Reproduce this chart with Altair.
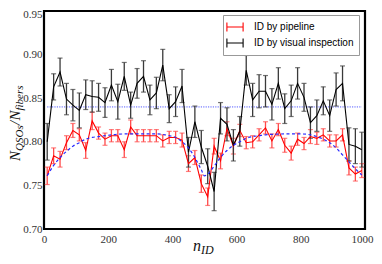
import altair as alt
import pandas as pd

# ---------------- data ----------------
n_id = [10, 30, 50, 70, 90, 110, 130, 150, 170, 190,
        210, 230, 250, 270, 290, 310, 330, 350, 370, 390,
        410, 430, 450, 470, 490, 510, 530, 550, 570, 590,
        610, 630, 650, 670, 690, 710, 730, 750, 770, 790,
        810, 830, 850, 870, 890, 910, 930, 950, 970, 990]

pipeline = [0.761, 0.784, 0.780, 0.799, 0.813, 0.808, 0.790, 0.824, 0.810, 0.803,
            0.807, 0.807, 0.791, 0.817, 0.807, 0.807, 0.807, 0.807, 0.801, 0.805,
            0.805, 0.802, 0.775, 0.782, 0.752, 0.737, 0.795, 0.778, 0.815, 0.795,
            0.813, 0.799, 0.800, 0.808, 0.816, 0.801, 0.814, 0.796, 0.787, 0.803,
            0.798, 0.806, 0.804, 0.808, 0.801, 0.801, 0.808, 0.770, 0.763, 0.767]
pipeline_err = [0.010, 0.009, 0.009, 0.008, 0.008, 0.007, 0.009, 0.010, 0.007, 0.007,
                0.007, 0.007, 0.009, 0.008, 0.007, 0.007, 0.007, 0.007, 0.007, 0.007,
                0.007, 0.008, 0.009, 0.008, 0.010, 0.010, 0.009, 0.009, 0.008, 0.009,
                0.007, 0.007, 0.007, 0.007, 0.007, 0.008, 0.007, 0.008, 0.008, 0.007,
                0.007, 0.008, 0.007, 0.007, 0.007, 0.007, 0.007, 0.008, 0.008, 0.008]

visual = [0.800, 0.863, 0.880, 0.849, 0.842, 0.836, 0.854, 0.852, 0.851, 0.845,
          0.865, 0.846, 0.875, 0.842, 0.867, 0.875, 0.848, 0.856, 0.888, 0.838,
          0.846, 0.864, 0.788, 0.823, 0.794, 0.772, 0.743, 0.827, 0.820, 0.796,
          0.812, 0.882, 0.848, 0.858, 0.858, 0.843, 0.867, 0.838, 0.847, 0.867,
          0.851, 0.822, 0.830, 0.847, 0.830, 0.860, 0.867, 0.797, 0.795, 0.791]
visual_err = [0.021, 0.015, 0.016, 0.018, 0.018, 0.020, 0.017, 0.018, 0.016, 0.017,
              0.018, 0.020, 0.016, 0.015, 0.017, 0.018, 0.017, 0.018, 0.018, 0.016,
              0.017, 0.019, 0.017, 0.018, 0.019, 0.020, 0.022, 0.018, 0.019, 0.018,
              0.017, 0.017, 0.019, 0.019, 0.018, 0.018, 0.018, 0.017, 0.018, 0.018,
              0.016, 0.018, 0.018, 0.016, 0.018, 0.019, 0.020, 0.019, 0.020, 0.020]

model_x = [10, 30, 50, 70, 90, 110, 130, 150, 170, 190,
           210, 250, 300, 350, 390, 410, 430, 450, 470, 490,
           500, 510, 530, 550, 570, 590, 610, 630, 650, 670,
           690, 750, 800, 830, 850, 870, 890, 910, 930, 950,
           970, 990]
model_y = [0.761, 0.773, 0.782, 0.789, 0.795, 0.799, 0.803, 0.805, 0.806, 0.807,
           0.808, 0.809, 0.809, 0.809, 0.807, 0.805, 0.800, 0.793, 0.782, 0.768,
           0.761, 0.763, 0.772, 0.782, 0.790, 0.796, 0.800, 0.804, 0.806, 0.807,
           0.808, 0.809, 0.809, 0.808, 0.806, 0.803, 0.799, 0.793, 0.785, 0.777,
           0.769, 0.762]

mean_level = [0.84]
mean_span = [10, 990]

series_names = ["ID by pipeline", "ID by visual inspection"]
series_colors = ["#ff0000", "#000000"]
bar_colors = ["#ff4a4a", "#3a3a3a"]

x_ticks = [0, 200, 400, 600, 800, 1000]
y_ticks = [0.70, 0.75, 0.80, 0.85, 0.90, 0.95]

# ---------------- tables ----------------
rows = []
for name, vals, errs in [(series_names[0], pipeline, pipeline_err),
                         (series_names[1], visual, visual_err)]:
    for n, v, e in zip(n_id, vals, errs):
        rows.append({"n": n, "v": v, "lo": v - e, "hi": v + e, "series": name})
df = pd.DataFrame(rows)
model_df = pd.DataFrame({"n": model_x, "v": model_y})
mean_df = pd.DataFrame({"x1": [mean_span[0]], "x2": [mean_span[1]], "v": mean_level})

serif = "Liberation Serif"
sans = "Liberation Sans"

xs = alt.Scale(domain=[0, 1000], nice=False, zero=False)
ys = alt.Scale(domain=[0.70, 0.95], nice=False, zero=False)

x_axis = alt.Axis(values=x_ticks, title=None, grid=False, ticks=False, domain=False,
                  labelFont=serif, labelFontSize=11, labelColor="#333",
                  labelPadding=4, format="d", labelFlush=False,
                  labelAlign={"condition": {"test": "datum.value >= 1000", "value": "right"},
                              "value": "center"},
                  labelOffset={"condition": {"test": "datum.value >= 1000", "value": 8},
                               "value": 0})
y_axis = alt.Axis(values=y_ticks, title=None, grid=False, ticks=False, domain=False,
                  labelFont=serif, labelFontSize=11, labelColor="#333",
                  labelPadding=2, format=".2f", labelFlush=False,
                  labelOffset={"condition": {"test": "datum.value >= 0.949", "value": 3},
                               "value": 0})

base = alt.Chart(df)

mean_line = alt.Chart(mean_df).mark_rule(color="#9ea2ff", strokeWidth=1.6,
                                         strokeDash=[1.2, 1.2]).encode(
    x=alt.X("x1:Q", scale=xs, axis=x_axis),
    x2="x2:Q",
    y=alt.Y("v:Q", scale=ys, axis=y_axis),
)

layers = [mean_line]
for name, bc in zip(series_names, bar_colors):
    sub = base.transform_filter(alt.datum.series == name)
    layers.append(sub.mark_rule(color=bc, strokeWidth=1.3).encode(
        x=alt.X("n:Q", scale=xs), y=alt.Y("lo:Q", scale=ys), y2="hi:Q"))
    layers.append(sub.mark_tick(color=bc, orient="horizontal", size=5, thickness=1.2).encode(
        x=alt.X("n:Q", scale=xs), y=alt.Y("lo:Q", scale=ys)))
    layers.append(sub.mark_tick(color=bc, orient="horizontal", size=5, thickness=1.2).encode(
        x=alt.X("n:Q", scale=xs), y=alt.Y("hi:Q", scale=ys)))

lines = base.mark_line(strokeWidth=1.1).encode(
    x=alt.X("n:Q", scale=xs),
    y=alt.Y("v:Q", scale=ys),
    color=alt.Color("series:N",
                    scale=alt.Scale(domain=series_names, range=series_colors),
                    legend=alt.Legend(
                        title=None, orient="none", legendX=179, legendY=4,
                        direction="vertical",
                        symbolType="M-1.35,0H1.35M-1.35,-0.75V0.75M1.35,-0.75V0.75",
                        symbolSize=144, symbolStrokeWidth=1.1,
                        labelFont=sans, labelFontSize=10, labelColor="#000",
                        labelOffset=12, labelLimit=300, rowPadding=2,
                        padding=5, strokeColor="#999", fillColor="white",
                        cornerRadius=0)),
)
layers.append(lines)

model = alt.Chart(model_df).mark_line(color="#2a2aff", strokeWidth=1.2,
                                      strokeDash=[3, 2.5],
                                      interpolate="monotone").encode(
    x=alt.X("n:Q", scale=xs), y=alt.Y("v:Q", scale=ys))
layers.append(model)


def label(txt, x, y, size, angle=0):
    d = pd.DataFrame({"t": [txt]})
    mk = alt.Chart(d).mark_text(font=serif, fontStyle="italic", fontSize=size,
                                align="left", baseline="alphabetic",
                                angle=angle, color="#111")
    return mk.encode(text="t:N", x=alt.value(x), y=alt.value(y))


# y-axis title  N_{QSOs}/N_{fibers}
layers += [
    label("N", -24, 150, 15, 270),
    label("QSOs", -21, 140, 11, 270),
    label("/", -24, 114, 15, 270),
    label("N", -24, 109.5, 15, 270),
    label("fibers", -21, 99.5, 11, 270),
]
# x-axis title  n_{ID}
layers += [
    label("n", 149, 240, 16),
    label("ID", 157, 243, 12),
]

chart = alt.layer(*layers).properties(
    width=321, height=218,
    autosize=alt.AutoSizeParams(type="none"),
    padding={"left": 36, "top": 3, "right": 9, "bottom": 32},
).configure_view(stroke="black", strokeWidth=2.2)

chart.save("out.html", embed_options={"renderer": "svg", "actions": False})
